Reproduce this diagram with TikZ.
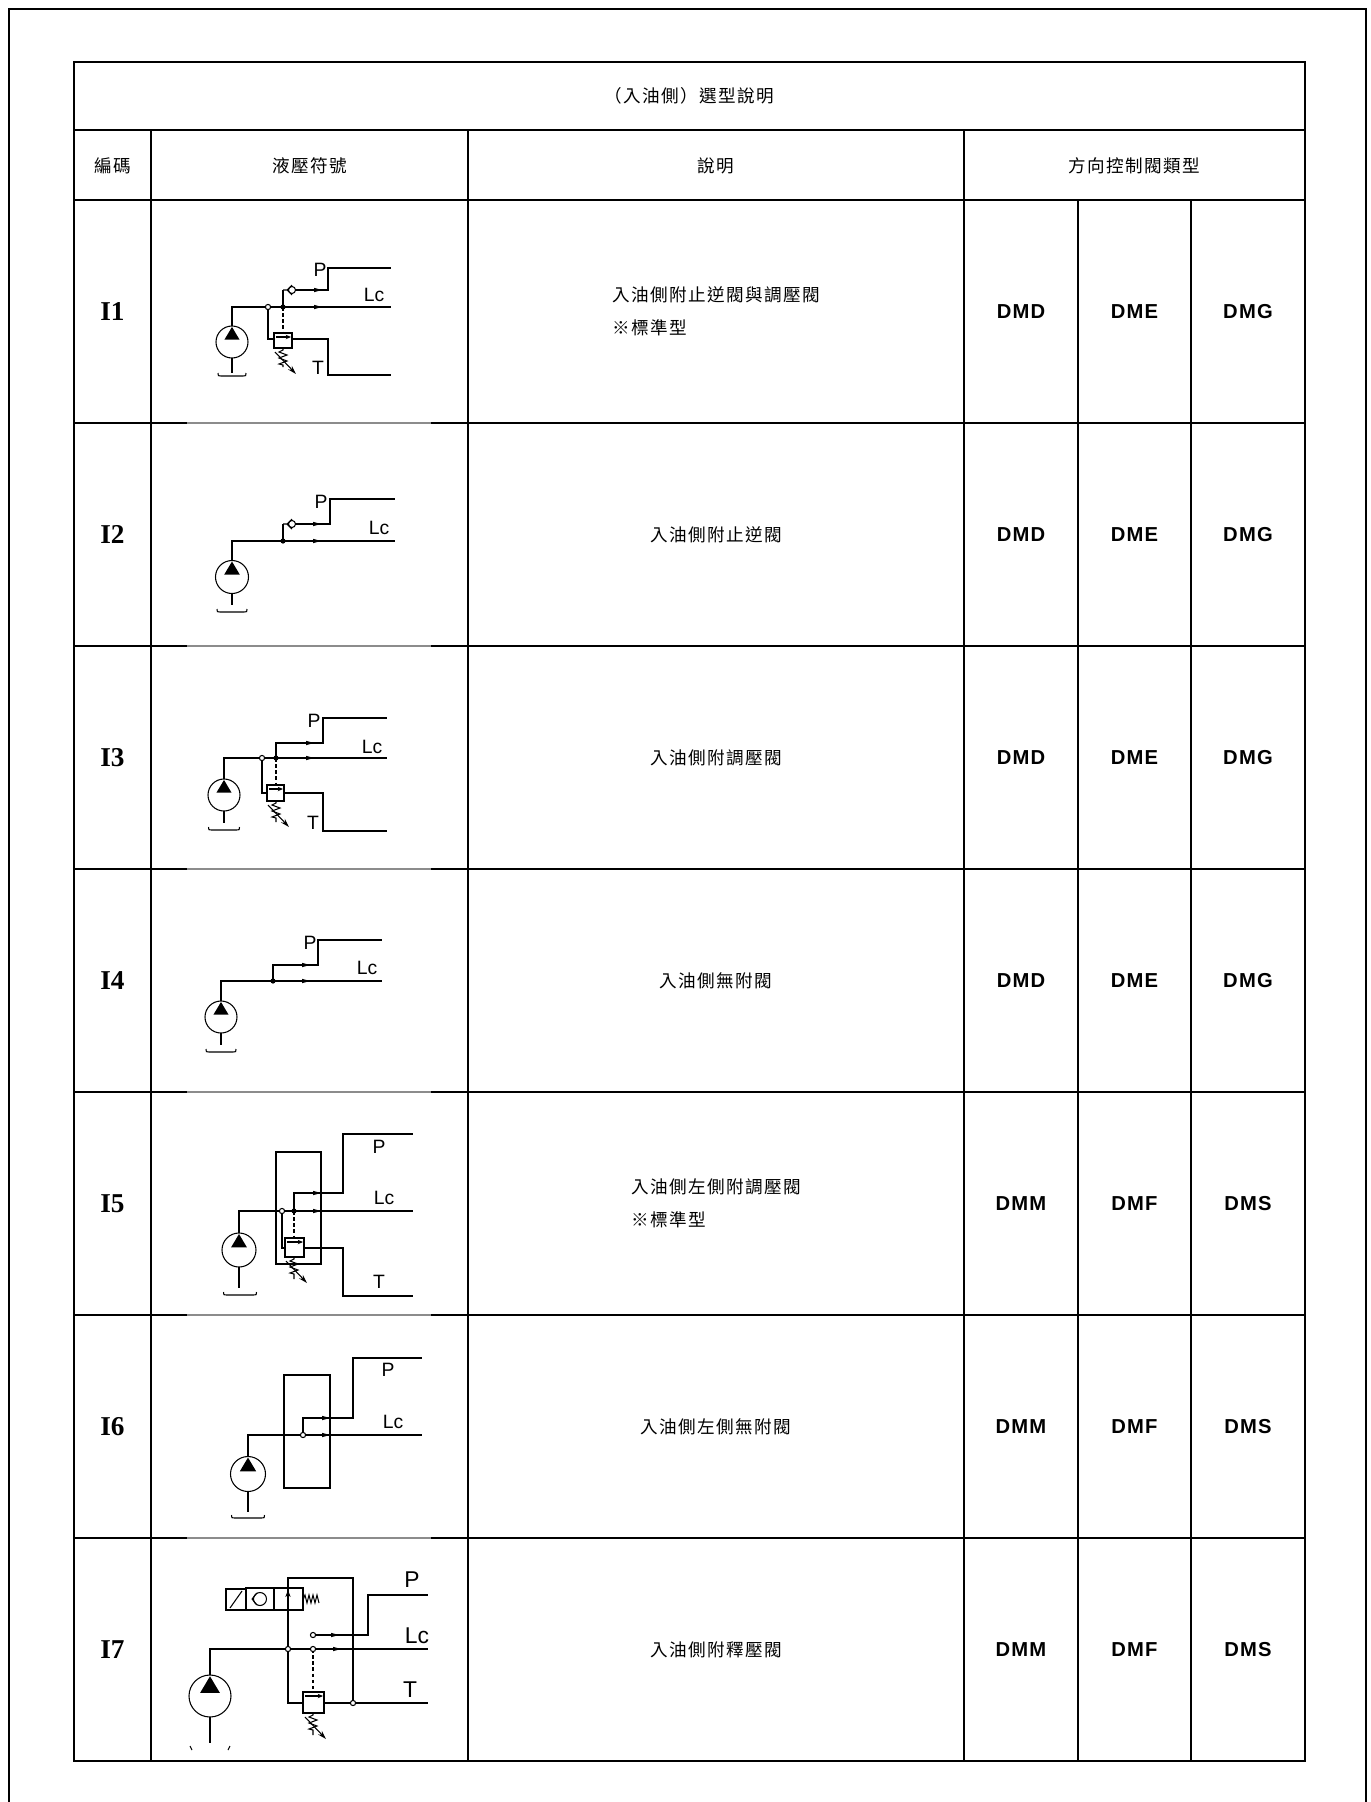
\documentclass[tikz,border=0pt]{standalone}
\usepackage{fontspec}
\setmainfont{Liberation Serif}
\setsansfont{Liberation Sans}
\newfontfamily\cjk[LetterSpace=8]{Noto Sans CJK TC}
\newfontfamily\typefont[LetterSpace=6]{Liberation Sans}
\usetikzlibrary{calc,arrows.meta}

\tikzset{
  frame/.style={line width=1pt},
  tabline/.style={line width=0.8pt},
  tabthick/.style={line width=1.3pt},
  sym/.style={line width=0.6pt},
  pilot/.style={sym, dash pattern=on 2pt off 1.5pt},
  cjktext/.style={font=\cjk\fontsize{10}{19}\selectfont},
  codetext/.style={font=\rmfamily\bfseries\fontsize{15.5}{18}\selectfont},
  typetext/.style={font=\typefont\bfseries\fontsize{11.5}{13}\selectfont},
  portlabel/.style={font=\sffamily\fontsize{11}{12}\selectfont, inner sep=0pt},
  bigport/.style={font=\sffamily\fontsize{13}{14}\selectfont, inner sep=0pt},
}

% pump: centre x, y, radius
\newcommand{\pumpsym}[3]{%
  \begin{scope}[shift={(#1,#2)},scale=#3]
    \draw[sym] (0,0) circle (1);
    \fill (0,-0.94) -- (-0.47,-0.15) -- (0.47,-0.15) -- cycle;
  \end{scope}}
% tank: x, y of bottom, half width
\newcommand{\tanksym}[3]{%
  \begin{scope}[shift={(#1,#2)}]
    \draw[sym] (-#3,-3) .. controls (-#3,0) .. ({-#3+3},0) -- ({#3-3},0) .. controls (#3,0) .. (#3,-3);
  \end{scope}}
% adjustable spring: x, top y, length
\newcommand{\springsym}[3]{%
  \begin{scope}[shift={(#1,#2)}]
    \draw[sym] (0,0) -- (0,2) -- (-4,4) -- (4,7) -- (-4,10) -- (4,13) -- (-4,16) -- (0,17) -- (0,#3);
    \draw[sym,-{Stealth[length=5pt,width=3pt]}] (-8,4) -- (13,26);
  \end{scope}}
% relief valve body: corners
\newcommand{\reliefsym}[4]{%
  \draw[sym] (#1,#2) rectangle (#3,#4);
  \draw[sym,-{Stealth[length=3pt,width=2.5pt]}] ({#1+2},{#2+4}) -- ({#3-1},{#2+4});}
% check valve: entry point
\newcommand{\checksym}[2]{%
  \begin{scope}[shift={(#1,#2)}]
    \draw[sym] (0,0) -- (4,0) -- (9,-5) (4,0) -- (9,5);
    \draw[sym] (9,0) circle (3.5);
  \end{scope}}
\newcommand{\flowtip}[2]{\fill (#1,#2) -- ++(-8,-2.2) -- ++(0,4.4) -- cycle;}
\newcommand{\jdot}[2]{\fill (#1,#2) circle (2.6);}
\newcommand{\jring}[2]{\draw[sym,fill=white] (#1,#2) circle (2.6);}

\begin{document}
\begin{tikzpicture}[x=0.02cm,y=-0.02cm]
\useasboundingbox (0,0) rectangle (1371,1802);

% outer frame
\draw[frame] (9,1802) -- (9,9) -- (1366,9) -- (1366,1802);

% table
\draw[tabthick] (74,62) rectangle (1305,1761);
\draw[tabthick] (74,130) -- (1305,130);
\draw[tabthick] (74,200) -- (1305,200);
\foreach \y in {423,646,869,1092,1315,1538} {
  \draw[tabline] (74,\y) -- (1305,\y);
  \draw[tabline,black!45] (187,\y) -- (431,\y);
}
\foreach \x in {151,468,964} \draw[tabline] (\x,130) -- (\x,1761);
\foreach \x in {1078,1191} \draw[tabline] (\x,200) -- (\x,1761);

% headings
\node[cjktext] (title) at (689.5,96) {（入油側）選型說明};
\node[cjktext] (hcode) at (112.5,166) {編碼};
\node[cjktext] (hsym) at (309.5,166) {液壓符號};
\node[cjktext] (hdesc) at (716,166) {說明};
\node[cjktext] (htype) at (1134.5,166) {方向控制閥類型};

% rows
\foreach \code/\ta/\tb/\tc [count=\i] in {I1/DMD/DME/DMG, I2/DMD/DME/DMG, I3/DMD/DME/DMG,
    I4/DMD/DME/DMG, I5/DMM/DMF/DMS, I6/DMM/DMF/DMS, I7/DMM/DMF/DMS} {
  \node[codetext] (c\i) at (112.5,{88.5+223*\i}) {\code};
  \node[typetext] (ta\i) at (1021,{88.5+223*\i}) {\ta};
  \node[typetext] (tb\i) at (1134.5,{88.5+223*\i}) {\tb};
  \node[typetext] (tc\i) at (1248,{88.5+223*\i}) {\tc};
}
\foreach \desc [count=\i] in {{入油側附止逆閥與調壓閥\\※標準型}, 入油側附止逆閥, 入油側附調壓閥,
    入油側無附閥, {入油側左側附調壓閥\\※標準型}, 入油側左側無附閥, 入油側附釋壓閥}
  \node[cjktext, align=left] (d\i) at (716,{88.5+223*\i}) {\desc};

% I1
\pumpsym{232}{342}{16}
\draw[sym] (232,326) -- (232,307) -- (391,307);
\draw[sym] (232,358) -- (232,373);
\tanksym{232}{376}{14}
\draw[sym] (268,307) -- (268,339) -- (274,339);
\reliefsym{274}{333}{292}{348}
\draw[pilot] (283,307) -- (283,333);
\draw[sym] (292,339) -- (328,339) -- (328,375) -- (391,375);
\springsym{283}{348}{19}
\draw[sym] (283,307) -- (283,290);
\checksym{283}{290}
\draw[sym] (296,290) -- (328,290) -- (328,268) -- (391,268);
\flowtip{322}{290}
\flowtip{322}{307}
\jring{268}{307}
\jdot{283}{307}
\node[portlabel] (p1) at (320,270) {P};
\node[portlabel] (lc1) at (374,295) {Lc};
\node[portlabel] (t1) at (318,368) {T};

% I2
\pumpsym{232}{577}{16.5}
\draw[sym] (232,561) -- (232,541) -- (395,541);
\draw[sym] (232,594) -- (232,605);
\tanksym{232}{612}{15}
\draw[sym] (283,541) -- (283,524);
\checksym{283}{524}
\draw[sym] (296,524) -- (330,524) -- (330,499) -- (395,499);
\flowtip{321}{524}
\flowtip{321}{541}
\jdot{283}{541}
\node[portlabel] (p2) at (321,502) {P};
\node[portlabel] (lc2) at (379,528) {Lc};

% I3
\pumpsym{224}{795}{16}
\draw[sym] (224,779) -- (224,758) -- (387,758);
\draw[sym] (224,811) -- (224,823);
\tanksym{224}{830}{15.5}
\draw[sym] (262,758) -- (262,793) -- (267,793);
\reliefsym{267}{785}{284}{801}
\draw[pilot] (276,758) -- (276,785);
\draw[sym] (284,793) -- (323,793) -- (323,831) -- (387,831);
\springsym{276}{801}{21}
\draw[sym] (276,758) -- (276,743) -- (323,743) -- (323,718) -- (387,718);
\flowtip{314}{743}
\flowtip{314}{758}
\jring{262}{758}
\jdot{276}{758}
\node[portlabel] (p3) at (314,721) {P};
\node[portlabel] (lc3) at (372,747) {Lc};
\node[portlabel] (t3) at (313,823) {T};

% I4
\pumpsym{221}{1017}{16}
\draw[sym] (221,1001) -- (221,981) -- (382,981);
\draw[sym] (221,1033) -- (221,1045);
\tanksym{221}{1052}{15}
\draw[sym] (273,981) -- (273,965) -- (318,965) -- (318,940) -- (382,940);
\flowtip{310}{965}
\flowtip{310}{981}
\jdot{273}{981}
\node[portlabel] (p4) at (310,943) {P};
\node[portlabel] (lc4) at (367,968) {Lc};

% I5
\draw[sym] (276,1152) rectangle (321,1264);
\pumpsym{239}{1250}{17}
\draw[sym] (239,1233) -- (239,1211) -- (413,1211);
\draw[sym] (239,1267) -- (239,1288);
\tanksym{240}{1295}{16.5}
\draw[sym] (282,1211) -- (282,1248) -- (285,1248);
\reliefsym{285}{1238}{304}{1257}
\draw[pilot] (294,1211) -- (294,1238);
\draw[sym] (304,1248) -- (343,1248) -- (343,1296) -- (413,1296);
\springsym{294}{1257}{22}
\draw[sym] (294,1211) -- (294,1193) -- (343,1193) -- (343,1134) -- (413,1134);
\flowtip{321}{1193}
\flowtip{321}{1211}
\jring{282}{1211}
\jdot{294}{1211}
\node[portlabel] (p5) at (379,1147) {P};
\node[portlabel] (lc5) at (384,1198) {Lc};
\node[portlabel] (t5) at (379,1282) {T};

% I6
\draw[sym] (284,1375) rectangle (330,1488);
\pumpsym{248}{1474}{17.5}
\draw[sym] (248,1457) -- (248,1435) -- (422,1435);
\draw[sym] (248,1492) -- (248,1512);
\tanksym{248}{1518}{16.5}
\draw[sym] (303,1435) -- (303,1418) -- (353,1418) -- (353,1358) -- (422,1358);
\flowtip{330}{1418}
\flowtip{330}{1435}
\jring{303}{1435}
\node[portlabel] (p6) at (388,1370) {P};
\node[portlabel] (lc6) at (393,1422) {Lc};

% I7
\pumpsym{210}{1696}{21}
\draw[sym] (210,1675) -- (210,1649) -- (428,1649);
\draw[sym] (210,1717) -- (210,1743);
\draw[sym] (190,1746) -- (192,1750) (228,1750) -- (230,1746);
\draw[sym] (303,1703) -- (288,1703) -- (288,1578) -- (353,1578) -- (353,1703);
\draw[sym] (226,1589) rectangle (246,1610);
\draw[sym] (230,1608) -- (242,1591);
\draw[sym] (246,1588) rectangle (274,1610);
\draw[sym] (274,1588) rectangle (303,1610);
\draw[sym] (252,1599) -- (257,1593) (252,1599) -- (257,1605);
\draw[sym] (260,1599) circle (6.5);
\draw[sym,-{Stealth[length=4pt,width=3pt]}] (288,1606) -- (288,1590);
\draw[sym] (303,1600) -- (305,1595) -- (307,1603) -- (309,1595) -- (311,1603) -- (313,1595) -- (315,1603) -- (317,1595) -- (319,1603);
\draw[sym] (316,1635) -- (368,1635) -- (368,1595) -- (428,1595);
\flowtip{339}{1635}
\flowtip{341}{1649}
\draw[pilot] (313,1649) -- (313,1692);
\reliefsym{303}{1692}{324}{1713}
\draw[sym] (324,1703) -- (428,1703);
\springsym{313}{1713}{22}
\jring{288}{1649}
\jring{313}{1649}
\jring{313}{1635}
\jring{353}{1703}
\node[bigport] (p7) at (412,1580) {P};
\node[bigport] (lc7) at (417,1636) {Lc};
\node[bigport] (t7) at (410,1690) {T};
\end{tikzpicture}
\end{document}
